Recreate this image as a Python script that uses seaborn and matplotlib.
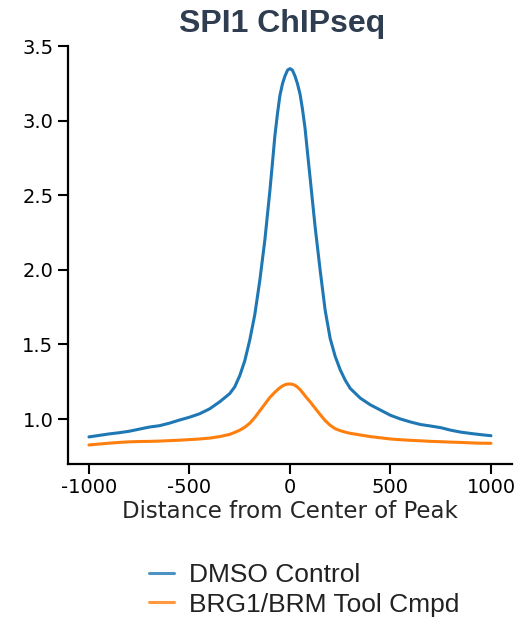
import matplotlib
matplotlib.use("Agg")
import matplotlib.pyplot as plt
import pandas as pd
import seaborn as sns

# Distance from peak centre (bp) and signal for each condition
positions = [-1000, -950, -900, -850, -800, -750, -700, -650, -600, -550,
             -500, -450, -400, -350, -300,
             -275, -250, -225, -200, -175, -150, -125, -100,
             -87, -75, -62, -50, -37, -25, -12, 0, 12, 25, 37, 50, 62, 75, 87,
             100, 125, 150, 175, 200, 225, 250, 275, 300,
             350, 400, 450, 500, 550, 600, 650, 700, 750, 800, 850, 900, 950, 1000]

dmso = [0.88, 0.89, 0.90, 0.908, 0.918, 0.932, 0.946, 0.955, 0.972, 0.993,
        1.012, 1.035, 1.068, 1.115, 1.17,
        1.215, 1.29, 1.39, 1.53, 1.70, 1.93, 2.20, 2.53,
        2.72, 2.90, 3.05, 3.17, 3.25, 3.30, 3.34, 3.35, 3.34, 3.30, 3.25, 3.18, 3.08, 2.95, 2.79,
        2.62, 2.29, 2.00, 1.73, 1.54, 1.42, 1.33, 1.26, 1.205,
        1.14, 1.095, 1.06, 1.025, 1.00, 0.98, 0.963, 0.953, 0.942, 0.925, 0.912, 0.903, 0.895, 0.888]

tool_cmpd = [0.826, 0.832, 0.838, 0.843, 0.847, 0.849, 0.85, 0.852, 0.855, 0.858,
             0.862, 0.866, 0.872, 0.882, 0.897,
             0.91, 0.925, 0.945, 0.972, 1.01, 1.055, 1.10, 1.145,
             1.163, 1.18, 1.196, 1.21, 1.222, 1.23, 1.234, 1.235, 1.233, 1.226, 1.214, 1.198, 1.178, 1.156, 1.136,
             1.116, 1.073, 1.03, 0.99, 0.958, 0.935, 0.922, 0.912, 0.904,
             0.893, 0.882, 0.874, 0.866, 0.861, 0.857, 0.854, 0.85, 0.848, 0.845, 0.843, 0.84, 0.838, 0.837]

conditions = ["DMSO Control", "BRG1/BRM Tool Cmpd"]
colors = ["#1f77b4", "#ff7f0e"]
x_ticks = [-1000, -500, 0, 500, 1000]
y_ticks = [1.0, 1.5, 2.0, 2.5, 3.0, 3.5]


def main():
    sns.set_style("ticks")
    plt.rcParams["font.family"] = ["DejaVu Sans"]
    plt.rcParams["axes.unicode_minus"] = False

    df = pd.DataFrame({
        "pos": positions * 2,
        "signal": dmso + tool_cmpd,
        "cond": [conditions[0]] * len(dmso) + [conditions[1]] * len(tool_cmpd),
    })

    fig = plt.figure(figsize=(5.22, 6.25), dpi=100)
    ax = fig.add_axes([0.130, 0.258, 0.851, 0.668])
    sns.lineplot(data=df, x="pos", y="signal", hue="cond", hue_order=conditions,
                 palette=colors, linewidth=2.2, ax=ax, legend=False)

    ax.set_xlim(-1105, 1105)
    ax.set_ylim(0.7, 3.5)
    ax.set_xticks(x_ticks)
    ax.set_xticklabels([str(t) for t in x_ticks])
    ax.set_yticks(y_ticks)
    ax.tick_params(labelsize=14, length=7, width=1.5, colors="black")
    for side in ["left", "bottom"]:
        ax.spines[side].set_linewidth(1.6)
        ax.spines[side].set_color("black")
    sns.despine(ax=ax)

    ax.set_xlabel("Distance from Center of Peak", fontsize=16.5, labelpad=2)
    ax.set_ylabel("")

    fig.text(0.540, 0.962, "SPI1 ChIPseq", ha="center", va="center",
             fontsize=23, fontweight="bold", color="#2f3d50",
             family=["Liberation Sans", "DejaVu Sans"])

    handles = [plt.Line2D([], [], color=c, linewidth=2.2, alpha=0.8) for c in colors]
    fig.legend(handles, conditions, loc="center left", bbox_to_anchor=(0.24, 0.056),
               frameon=False, handlelength=0.95, handletextpad=0.55, labelspacing=0.2,
               prop={"family": ["Liberation Sans", "DejaVu Sans"], "size": 19},
               labelcolor="#222222")

    plt.savefig("out.png", dpi=100)


if __name__ == "__main__":
    main()
